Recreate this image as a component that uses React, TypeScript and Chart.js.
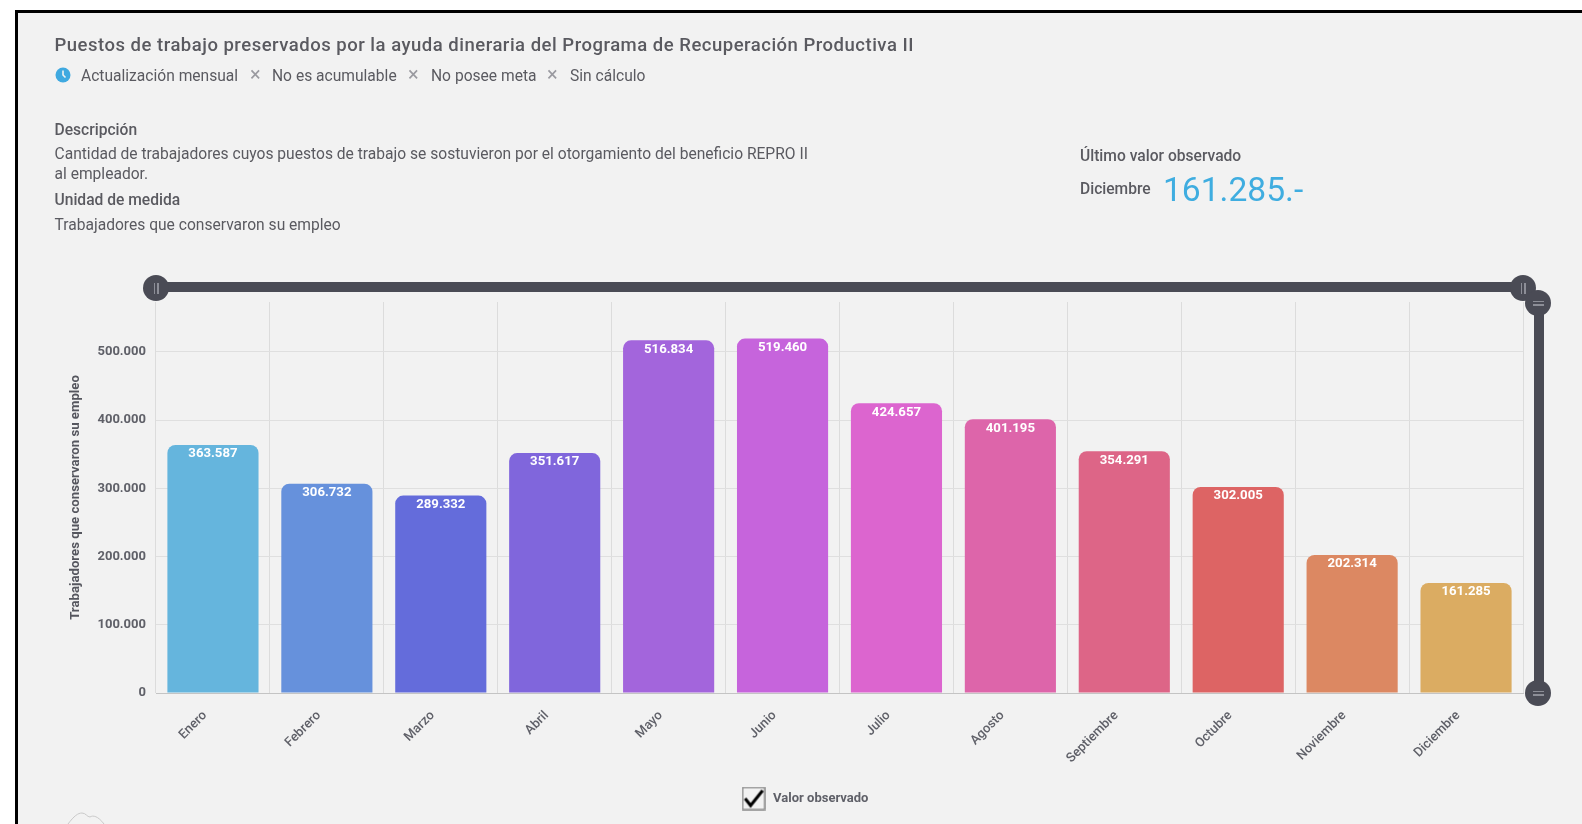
import React, { useEffect, useRef } from "react";
import { Chart, registerables } from "chart.js";

Chart.register(...registerables);

const categories = ["Enero", "Febrero", "Marzo", "Abril", "Mayo", "Junio", "Julio", "Agosto", "Septiembre", "Octubre", "Noviembre", "Diciembre"];
const observed = [363587, 306732, 289332, 351617, 516834, 519460, 424657, 401195, 354291, 302005, 202314, 161285];
const barColors = ["#65b5dd", "#6691dc", "#646cdb", "#8066dc", "#a365dc", "#c664dc", "#dc65cf", "#dd65aa", "#dd6587", "#dd6464", "#dc8862", "#dbac62"];
const yTicks = [0, 100000, 200000, 300000, 400000, 500000];
const seriesName = "Valor observado";
const axisTitle = "Trabajadores que conservaron su empleo";
const yMax = 573000;

const fmt = (v: number) => Math.round(v).toString().replace(/\B(?=(\d{3})+(?!\d))/g, ".");
const FONT = "Roboto, sans-serif";
const TEXT = "#5a5a60";

const valueLabels = {
  id: "valueLabels",
  afterLayout(chart: any) {
    chart.legend.left += 9;
    chart.legend.right += 9;
  },
  afterDatasetsDraw(chart: any) {
    const { ctx } = chart;
    const meta = chart.getDatasetMeta(0);
    ctx.save();
    ctx.font = `bold 13.2px ${FONT}`;
    ctx.fillStyle = "#ffffff";
    ctx.textAlign = "center";
    ctx.textBaseline = "middle";
    meta.data.forEach((bar: any, i: number) => {
      ctx.fillText(fmt(observed[i]), bar.x, bar.y + 9);
    });
    ctx.restore();
  },
};

function checkIcon() {
  const c = document.createElement("canvas");
  c.width = 24;
  c.height = 24;
  const g = c.getContext("2d")!;
  g.fillStyle = "#f2f2f2";
  g.fillRect(0, 0, 24, 24);
  g.strokeStyle = "#8a8a8a";
  g.lineWidth = 1.5;
  g.strokeRect(1, 1, 22, 22);
  g.strokeStyle = "#000000";
  g.lineWidth = 3;
  g.beginPath();
  g.moveTo(3.5, 12);
  g.lineTo(9, 19);
  g.lineTo(21, 4);
  g.stroke();
  return c;
}

function T({ x, y, size = 15.6, weight = 400, color = TEXT, ls = 0, children }: any) {
  return (
    <div
      style={{
        position: "absolute",
        left: x,
        top: y,
        transform: "translateY(-50%)",
        fontFamily: FONT,
        fontSize: size,
        fontWeight: weight,
        color,
        letterSpacing: ls,
        whiteSpace: "nowrap",
        lineHeight: 1,
      }}
    >
      {children}
    </div>
  );
}

function Bar({ x, y, w, h }: any) {
  return <div style={{ position: "absolute", left: x, top: y, width: w, height: h, background: "#4a4b55" }} />;
}

function Handle({ x, y, vertical }: any) {
  return (
    <div
      style={{
        position: "absolute",
        left: x - 13,
        top: y - 13,
        width: 26,
        height: 26,
        borderRadius: 13,
        background: "#4a4b55",
        display: "flex",
        alignItems: "center",
        justifyContent: "center",
        flexDirection: vertical ? "column" : "row",
        gap: 2,
      }}
    >
      <span style={{ display: "block", background: "#8d8e97", width: vertical ? 11 : 1.5, height: vertical ? 1.5 : 11 }} />
      <span style={{ display: "block", background: "#8d8e97", width: vertical ? 11 : 1.5, height: vertical ? 1.5 : 11 }} />
    </div>
  );
}

export default function App() {
  const ref = useRef<HTMLCanvasElement>(null);
  useEffect(() => {
    const chart = new Chart(ref.current!, {
      type: "bar",
      data: {
        labels: categories,
        datasets: [
          {
            label: seriesName,
            data: observed,
            backgroundColor: barColors,
            borderRadius: { topLeft: 8, topRight: 8, bottomLeft: 0, bottomRight: 0 },
            borderSkipped: false,
            barPercentage: 0.8,
            categoryPercentage: 1,
          },
        ],
      },
      plugins: [valueLabels],
      options: {
        animation: false,
        responsive: false,
        layout: { padding: { top: 302, right: 59, left: 68, bottom: 9 } },
        plugins: {
          tooltip: { enabled: false },
          title: { display: false },
          legend: {
            display: true,
            position: "bottom",
            onClick: () => {},
            labels: {
              usePointStyle: true,
              pointStyleWidth: 26,
              padding: 12,
              color: "#5f6068",
              font: { family: FONT, size: 13, weight: "bold" },
              generateLabels: () => [
                { text: seriesName, fontColor: "#5f6068", pointStyle: checkIcon(), fillStyle: "#000", strokeStyle: "#000", lineWidth: 0, hidden: false, datasetIndex: 0 },
              ],
            },
          },
        },
        scales: {
          x: {
            grid: { color: "#dcdcdc", lineWidth: 1, drawTicks: false },
            border: { color: "#c4c4c4" },
            afterFit: (s: any) => {
              s.height = 87;
            },
            ticks: {
              maxRotation: 45,
              minRotation: 45,
              autoSkip: false,
              padding: 15,
              labelOffset: -8,
              color: "#5f6068",
              font: { family: FONT, size: 13, weight: "500" },
            },
          },
          y: {
            min: 0,
            max: yMax,
            afterBuildTicks: (s: any) => {
              s.ticks = yTicks.map((value) => ({ value }));
            },
            afterFit: (s: any) => {
              s.width = 88;
            },
            grid: { color: "#dfdfdf", lineWidth: 1, drawTicks: false },
            border: { display: false },
            title: {
              display: true,
              text: axisTitle,
              color: "#55565e",
              font: { family: FONT, size: 13.2, weight: "bold" },
              padding: { top: 0, bottom: 0 },
            },
            ticks: {
              padding: 10,
              color: "#5f6068",
              font: { family: FONT, size: 13, weight: "bold" },
              callback: (v: any) => fmt(Number(v)),
            },
          },
        },
      },
    } as any);
    return () => chart.destroy();
  }, []);

  return (
    <div style={{ position: "fixed", inset: 0, background: "#ffffff", overflow: "hidden", filter: "blur(0.5px)" }}>
      <div
        style={{
          position: "absolute",
          left: 15,
          top: 10,
          right: -10,
          bottom: -10,
          background: "#f2f2f2",
          borderLeft: "3px solid #000",
          borderTop: "3px solid #000",
        }}
      />
      <canvas ref={ref} width={1582} height={824} style={{ position: "absolute", left: 0, top: 0, width: 1582, height: 824 }} />

      <T x={54.5} y={44.5} size={18.5} weight={500} ls={0.5}>Puestos de trabajo preservados por la ayuda dineraria del Programa de Recuperación Productiva II</T>

      <svg style={{ position: "absolute", left: 55, top: 67 }} width={16} height={16}>
        <circle cx={8} cy={8} r={7.5} fill="#3fa9e0" />
        <path d="M8 3.5 V8 L10.5 10.5" stroke="#f2f2f2" strokeWidth={1.6} fill="none" />
      </svg>
      <T x={81} y={76.5}>Actualización mensual</T>
      <T x={250} y={74} size={20} color="#9a9aa0">×</T>
      <T x={272} y={76.5}>No es acumulable</T>
      <T x={408} y={74} size={20} color="#9a9aa0">×</T>
      <T x={431} y={76.5}>No posee meta</T>
      <T x={547} y={74} size={20} color="#9a9aa0">×</T>
      <T x={570} y={76.5}>Sin cálculo</T>

      <T x={54.5} y={131} weight={500}>Descripción</T>
      <T x={54.5} y={154.5}>Cantidad de trabajadores cuyos puestos de trabajo se sostuvieron por el otorgamiento del beneficio REPRO II</T>
      <T x={54.5} y={174.5}>al empleador.</T>
      <T x={54.5} y={201} weight={500}>Unidad de medida</T>
      <T x={54.5} y={225.5}>Trabajadores que conservaron su empleo</T>

      <T x={1080} y={157} weight={500}>Último valor observado</T>
      <T x={1080} y={189.5} weight={500}>Diciembre</T>
      <T x={1163} y={190} size={33.6} color="#3fade0">161.285.-</T>

      <Bar x={156} y={282} w={1367} h={10} />
      <Bar x={1534} y={303} w={10} h={390} />
      <Handle x={156} y={288} />
      <Handle x={1523} y={288} />
      <Handle x={1538} y={303} vertical />
      <Handle x={1538} y={693} vertical />

      <svg style={{ position: "absolute", left: 66, top: 812 }} width={44} height={12}>
        <path d="M2 12 C8 4 12 1 16 1 C20 1 21 5 24 5 C27 3 32 4 38 12" stroke="#c9c9c9" strokeWidth={1} fill="none" />
      </svg>
    </div>
  );
}
